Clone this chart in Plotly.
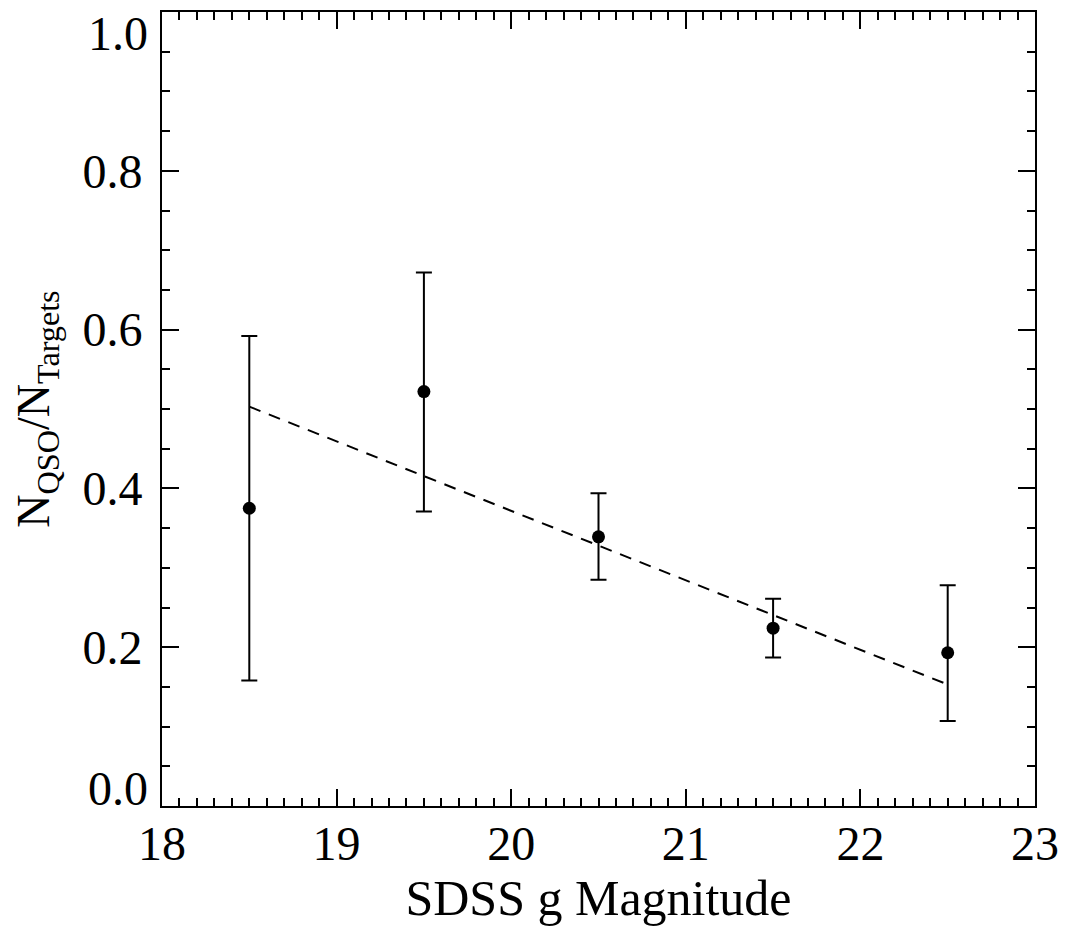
import plotly.graph_objects as go

# Binned QSO fraction vs g magnitude
g_mag = [18.5, 19.5, 20.5, 21.5, 22.5]
frac = [0.375, 0.522, 0.339, 0.224, 0.193]
err_hi = [0.217, 0.150, 0.055, 0.037, 0.085]
err_lo = [0.217, 0.151, 0.054, 0.037, 0.086]

# Linear fit (dashed)
fit_x = [18.5, 22.5]
fit_y = [0.503, 0.153]

# y tick labels; the end ones get nudged inside like in the original
y_ticks = [0.2, 0.4, 0.6, 0.8]
y_end_ticks = [0.0, 1.0]
y_end_anchor = ["middle", "top"]
y_end_shift = [18, 7]

FONT = "Liberation Serif, Times New Roman, serif"
INK = "black"

fig = go.Figure()
fig.add_trace(go.Scatter(
    x=fit_x, y=fit_y, mode="lines",
    line=dict(color=INK, width=2, dash="12px,9px"),
    hoverinfo="skip",
))
fig.add_trace(go.Scatter(
    x=g_mag, y=frac, mode="markers",
    marker=dict(color=INK, size=13),
    error_y=dict(type="data", symmetric=False, array=err_hi, arrayminus=err_lo,
                 color=INK, thickness=2, width=8),
))

axis_common = dict(
    showline=True, linecolor=INK, linewidth=2, mirror="allticks",
    ticks="inside", ticklen=17, tickwidth=2, tickcolor=INK,
    showgrid=False, zeroline=False, automargin=False,
    tickfont=dict(family=FONT, size=48, color=INK),
)

for val, anchor, shift in zip(y_end_ticks, y_end_anchor, y_end_shift):
    fig.add_annotation(
        x=0, xref="paper", y=val, yref="y", text=f"{val:.1f}",
        showarrow=False, xanchor="right", yanchor=anchor,
        xshift=-12, yshift=shift,
        font=dict(family=FONT, size=48, color=INK),
    )

# page body adds an 8px offset, margins compensate for it
fig.update_layout(
    width=1066, height=938,
    margin=dict(l=154, r=39, t=4, b=140),
    paper_bgcolor="white", plot_bgcolor="white",
    showlegend=False,
    font=dict(family=FONT, color=INK),
    xaxis=dict(
        range=[18, 23], dtick=1, tick0=18,
        minor=dict(dtick=0.1, ticks="inside", ticklen=8, tickwidth=2, tickcolor=INK),
        ticklabelstandoff=-6,
        title=dict(text="SDSS g Magnitude", font=dict(family=FONT, size=50, color=INK), standoff=0),
        **axis_common,
    ),
    yaxis=dict(
        range=[0, 1], tickvals=y_ticks, tickformat=".1f",
        minor=dict(dtick=0.05, ticks="inside", ticklen=8, tickwidth=2, tickcolor=INK),
        ticklabelstandoff=8,
        title=dict(text="N<sub>QSO</sub>/N<sub>Targets</sub>",
                   font=dict(family=FONT, size=46, color=INK), standoff=25),
        **axis_common,
    ),
)

fig.write_html("out.html")
